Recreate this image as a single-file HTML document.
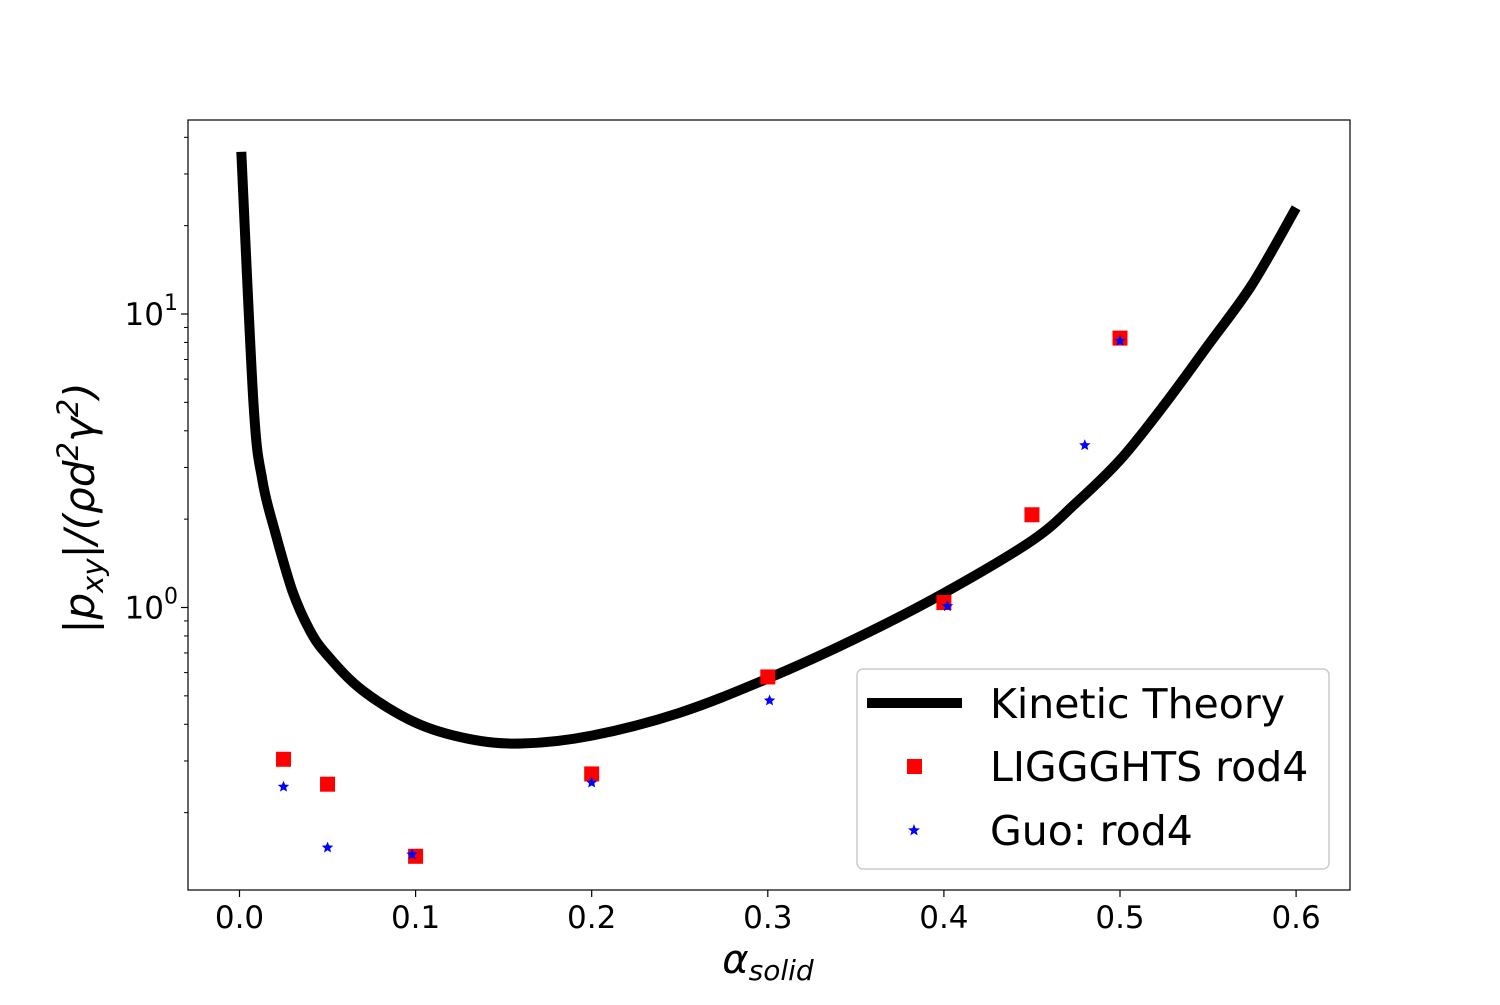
<!DOCTYPE html>
<html><head><meta charset="utf-8"><style>
body{margin:0;background:#fff}
svg text{font-family:"DejaVu Sans","Liberation Sans",sans-serif;fill:#000}
</style></head><body>
<svg id="chart" width="1500" height="1000" xmlns="http://www.w3.org/2000/svg">
<rect x="0" y="0" width="1500" height="1000" fill="#fff"/>
<g id="plot"></g>
<g id="axes"></g>
<text x="768" y="973" font-size="40" text-anchor="middle" font-style="italic">α<tspan font-size="28" dy="7">solid</tspan></text>
<text transform="translate(94,508) rotate(-90)" font-size="42" text-anchor="middle" font-style="italic">|p<tspan font-size="29" dy="9">xy</tspan><tspan dy="-9">|/(ρd</tspan><tspan font-size="29" dy="-16">2</tspan><tspan dy="16">γ</tspan><tspan font-size="29" dy="-16">2</tspan><tspan dy="16">)</tspan></text>
<g id="legend">
<rect x="857" y="669" width="472" height="200" rx="6" fill="#fff" fill-opacity="0.8" stroke="#ccc" stroke-width="1.5"/>
<line x1="867" y1="703" x2="962" y2="703" stroke="#000" stroke-width="10"/>
<text x="990" y="718" font-size="41">Kinetic Theory</text>
<rect x="907" y="759" width="15" height="15" fill="#f00"/>
<text x="990" y="781" font-size="41">LIGGGHTS rod4</text>
<polygon points="914,824 915.6,828.3 920,828.5 916.5,831.2 917.7,835.5 914,833 910.3,835.5 911.5,831.2 908,828.5 912.4,828.3" fill="#00f"/>
<text x="990" y="845" font-size="41">Guo: rod4</text>
</g>
</svg>
<script>
const kineticX=[0.001,0.008,0.013,0.02,0.03,0.04,0.05,0.07,0.1,0.13,0.16,0.2,0.25,0.3,0.35,0.4,0.45,0.475,0.5,0.525,0.55,0.575,0.6];
const kineticY=[35.7,4.89,2.71,1.83,1.14,0.835,0.686,0.521,0.405,0.357,0.344,0.366,0.438,0.573,0.784,1.12,1.69,2.27,3.18,4.89,7.83,12.6,23.0];
const liggX=[0.025,0.05,0.1,0.2,0.3,0.4,0.45,0.5];
const liggY=[0.304,0.250,0.142,0.271,0.580,1.04,2.07,8.28];
const guoX=[0.025,0.05,0.098,0.2,0.301,0.402,0.48,0.5];
const guoY=[0.245,0.152,0.144,0.253,0.482,1.01,3.57,8.09];
const xTicks=[0,0.1,0.2,0.3,0.4,0.5,0.6];
const xTickLabels=["0.0","0.1","0.2","0.3","0.4","0.5","0.6"];
const yTicks=[1,10];
const yTickLabels=["0","1"];

const NS="http://www.w3.org/2000/svg";
const L=188,R=1350,T=120,B=890;
function sx(v){return 239.5+v*1761;}
function sy(v){return 607.5-Math.log10(v)*293.5;}
function mk(tag,attrs,parent){const e=document.createElementNS(NS,tag);for(const k in attrs)e.setAttribute(k,attrs[k]);parent.appendChild(e);return e;}
const plot=document.getElementById('plot'),axes=document.getElementById('axes');

const pts=kineticX.map((x,i)=>[sx(x),sy(kineticY[i])]);
let d='M'+pts[0][0].toFixed(1)+','+pts[0][1].toFixed(1);
for(let i=0;i<pts.length-1;i++){
  const p0=pts[Math.max(0,i-1)],p1=pts[i],p2=pts[i+1],p3=pts[Math.min(pts.length-1,i+2)];
  const c1=[p1[0]+(p2[0]-p0[0])/6,p1[1]+(p2[1]-p0[1])/6];
  const c2=[p2[0]-(p3[0]-p1[0])/6,p2[1]-(p3[1]-p1[1])/6];
  d+=' C'+c1.map(v=>v.toFixed(1)).join(',')+' '+c2.map(v=>v.toFixed(1)).join(',')+' '+p2.map(v=>v.toFixed(1)).join(',');
}
const line=mk('path',{d:d,fill:'none',stroke:'#000','stroke-width':10,'stroke-linejoin':'round'},plot);



liggX.forEach((x,i)=>{
  const r=mk('rect',{x:sx(x)-7.5,y:sy(liggY[i])-7.5,width:15,height:15,fill:'#f00'},plot);
  
  
});
function star(cx,cy,ro){let p=[];for(let k=0;k<10;k++){const a=-Math.PI/2+k*Math.PI/5;const rr=k%2?ro*0.45:ro;p.push((cx+rr*Math.cos(a)).toFixed(1)+','+(cy+rr*Math.sin(a)).toFixed(1));}return p.join(' ');}
guoX.forEach((x,i)=>{
  const s=mk('polygon',{points:star(sx(x),sy(guoY[i]),6),fill:'#00f'},plot);
  
  
});

const frame=mk('rect',{x:L,y:T,width:R-L,height:B-T,fill:'none',stroke:'#000','stroke-width':1.2},axes);



xTicks.forEach((v,i)=>{
  const x=sx(v);
  const t=mk('line',{x1:x,y1:B,x2:x,y2:B+7,stroke:'#000','stroke-width':1.2},axes);
  
  
  const tx=mk('text',{x:x,y:B+38,'font-size':31,'text-anchor':'middle'},axes);
  tx.textContent=xTickLabels[i];
  
  
});
yTicks.forEach((v,i)=>{
  const y=sy(v);
  const t=mk('line',{x1:L-7,y1:y,x2:L,y2:y,stroke:'#000','stroke-width':1.2},axes);
  
  
  const tx=mk('text',{x:L-24,y:y+11,'font-size':31,'text-anchor':'end'},axes);
  tx.textContent='10';
  
  
  const ex=mk('text',{x:L-10,y:y-4,'font-size':22,'text-anchor':'end'},axes);
  ex.textContent=yTickLabels[i];
  
  
});
[0.2,0.3,0.4,0.5,0.6,0.7,0.8,0.9,2,3,4,5,6,7,8,9,20,30,40].forEach(v=>{
  const y=sy(v); if(y<T||y>B) return;
  const t=mk('line',{x1:L-4,y1:y,x2:L,y2:y,stroke:'#000','stroke-width':1},axes);
  
  
});
</script>
</body></html>
